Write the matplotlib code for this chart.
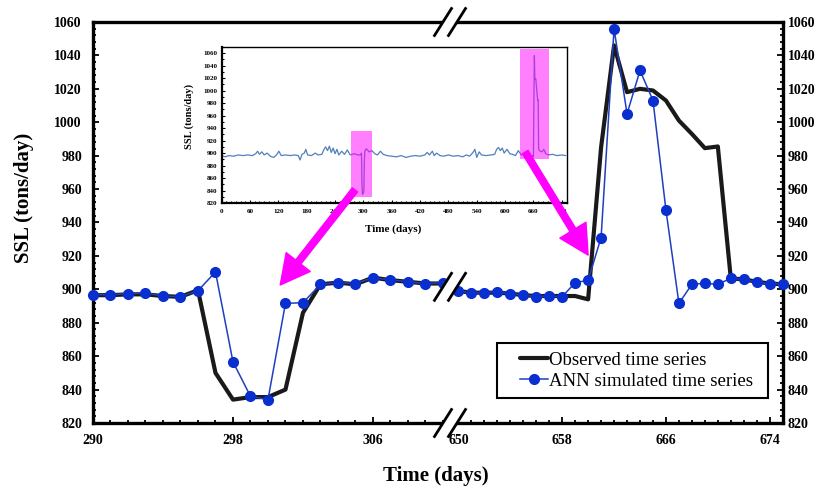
import matplotlib
matplotlib.use('Agg')
import matplotlib.pyplot as plt
from matplotlib.ticker import MultipleLocator
from matplotlib.patches import ConnectionPatch, Rectangle, Polygon
from matplotlib.lines import Line2D

plt.rcParams['font.family'] = ['Liberation Serif', 'DejaVu Serif']
plt.rcParams['font.weight'] = 'bold'

# ---- data ----
days_early = [290, 291, 292, 293, 294, 295, 296, 297, 298, 299, 300,
              301, 302, 303, 304, 305, 306, 307, 308, 309, 310]
obs_early = [896.5, 896.5, 897, 897, 896, 895.5, 899.5, 850, 834, 835.5, 835.5,
             840, 886, 903, 904, 903, 907, 905.5, 904.5, 903.5, 903.5]
sim_early = [896.8, 896.8, 897.4, 897.8, 896, 895.6, 899.2, 910.4, 856.6, 836, 834,
             891.6, 892, 903, 904, 903.4, 907, 905.6, 904.6, 903.4, 904]

days_late = [650, 651, 652, 653, 654, 655, 656, 657, 658, 659, 660, 661, 662,
             663, 664, 665, 666, 667, 668, 669, 670, 671, 672, 673, 674, 675]
obs_late = [899, 898, 898, 898, 897.5, 896.5, 896, 896, 896, 896, 894, 985, 1046,
            1018, 1020, 1019, 1013, 1001, 993, 984.5, 985.5, 906.5, 906, 904.5, 903.5, 903]
sim_late = [899, 898, 898, 898.4, 897.4, 896.6, 895.6, 896, 895.6, 904, 905.4, 931, 1056,
            1005, 1031, 1013, 947.4, 891.6, 903, 903.6, 903, 906.6, 906, 904.2, 903.4, 903.2]

ssl_ticks = [820, 840, 860, 880, 900, 920, 940, 960, 980, 1000, 1020, 1040, 1060]
xticks_early = [290, 298, 306]
xticks_late = [650, 658, 666, 674]

# whole record shown in the inset
inset_days = [0, 8, 15, 25, 35, 45, 55, 65, 72, 76, 80, 85, 90, 96, 103, 110, 116, 121,
              126, 135, 145, 155, 162, 166, 170, 175, 178, 182, 190, 198, 204, 212, 216,
              220, 224, 228, 232, 236, 240, 244, 248, 254, 260, 266, 272, 280, 288, 294,
              296, 297, 298, 300, 301, 302, 303, 306, 312, 318, 324, 330, 336, 342, 350,
              360, 370, 380, 390, 400, 410, 420, 430, 435, 440, 446, 450, 455, 462, 470,
              480, 490, 500, 510, 518, 525, 532, 536, 540, 545, 550, 560, 570, 578, 582,
              586, 590, 594, 598, 604, 610, 616, 622, 628, 634, 640, 646, 650, 655, 658,
              660, 661, 662, 663, 665, 667, 669, 670, 671, 674, 678, 682, 686, 692, 700,
              710, 720, 728]
inset_ssl = [896, 894, 896, 895, 897, 896, 897, 896, 899, 903, 898, 902, 897, 900, 895, 893,
             897, 903, 896, 897, 896, 897, 896, 889, 898, 900, 906, 897, 896, 900, 897, 898,
             905, 910, 904, 911, 901, 908, 899, 906, 897, 903, 898, 905, 897, 899, 897, 897,
             900, 850, 834, 836, 840, 886, 903, 907, 902, 904, 899, 897, 903, 898, 896,
             895, 894, 896, 893, 895, 896, 895, 897, 901, 897, 903, 896, 900, 896, 895,
             897, 895, 896, 894, 897, 895, 901, 906, 893, 902, 897, 896, 897, 898, 906,
             909, 904, 908, 900, 906, 899, 898, 896, 904, 897, 899, 897, 899, 896, 896,
             894, 985, 1056, 1018, 1019, 1001, 984, 985, 906, 903, 902, 906, 899, 897, 898,
             896, 897, 896]
# highlighted windows in the inset: (day from, day to, SSL from, SSL to)
zoom_windows = [(273, 319, 829, 935), (632, 693, 891, 1066)]

W, H = 818, 493


def fx(px):
    return px / W


def fy(py):
    return 1 - py / H


fig = plt.figure(figsize=(W / 100, H / 100), dpi=100)

left, split, right, top, bottom = 93, 451, 782.7, 22, 423
ax1 = fig.add_axes([fx(left), fy(bottom), fx(split) - fx(left), fy(top) - fy(bottom)])
ax2 = fig.add_axes([fx(split), fy(bottom), fx(right) - fx(split), fy(top) - fy(bottom)])

ax1.set_xlim(290, 310.46)
ax2.set_xlim(649.43, 675)
ax1.set_xticks(xticks_early, [str(t) for t in xticks_early])
ax2.set_xticks(xticks_late, [str(t) for t in xticks_late])
for ax in (ax1, ax2):
    ax.set_ylim(820, 1060)
    ax.set_yticks(ssl_ticks, [str(t) for t in ssl_ticks])
    ax.yaxis.set_minor_locator(MultipleLocator(4))
    ax.xaxis.set_minor_locator(MultipleLocator(1))
    ax.tick_params(which='both', direction='in', width=1.3, labelsize=10, top=False)
    ax.tick_params(which='major', length=4)
    ax.tick_params(which='minor', length=2.5)
    ax.tick_params(axis='x', pad=8)
    for s in ax.spines.values():
        s.set_linewidth(2.4)
ax1.spines['right'].set_visible(False)
ax2.spines['left'].set_visible(False)
ax1.tick_params(axis='y', which='both', left=True, right=False, pad=8)
ax2.tick_params(axis='y', which='both', left=False, right=True,
                labelleft=False, labelright=True, pad=3.5)

obs_kw = dict(color='#1a1a1a', lw=3, solid_joinstyle='round', solid_capstyle='round',
              clip_on=False, zorder=2)
sim_kw = dict(color='#1f3fbf', lw=1.1, clip_on=False, zorder=3)
mk_kw = dict(marker='o', ms=7, mfc='#0a2fd0', mec='#0a2fd0')

for ax, d, o, s in ((ax1, days_early, obs_early, sim_early),
                    (ax2, days_late, obs_late, sim_late)):
    ax.plot(d, o, label='Observed time series', **obs_kw)
    ax.plot(d, s, label='ANN simulated time series', **sim_kw, **mk_kw)

# carry both lines across the break (650 expressed in ax1 coordinates)
inv = ax1.transData.inverted()
for first, last, kw in ((obs_early, obs_late, obs_kw), (sim_early, sim_late, sim_kw)):
    x650, y650 = inv.transform(ax2.transData.transform((days_late[0], last[0])))
    ax1.plot([days_early[-1], x650], [first[-1], y650], **kw)

# break marks "//"
mid_y = ax1.transData.transform((0, (sim_early[-1] + sim_late[0]) / 2))[1]
mid_py = H - mid_y


def draw_break(xc, yc):
    dx, dy, gap = 8.5, 13.5, 7
    a = [(xc - gap - dx, yc + dy), (xc - gap + dx, yc - dy)]
    b = [(xc + gap - dx, yc + dy), (xc + gap + dx, yc - dy)]
    poly = [a[0], a[1], b[1], b[0]]
    fig.add_artist(Polygon([(fx(x), fy(y)) for x, y in poly], closed=True,
                           transform=fig.transFigure, fc='white', ec='none', zorder=3))
    for seg in (a, b):
        fig.add_artist(Line2D([fx(seg[0][0]), fx(seg[1][0])], [fy(seg[0][1]), fy(seg[1][1])],
                              transform=fig.transFigure, color='black', lw=2, zorder=4))


for yc in (top, bottom, mid_py):
    draw_break(split - 1, yc)

# legend: entries placed like the original, with its wider frame drawn separately
fig.add_artist(Rectangle((fx(497), fy(398)), fx(768) - fx(497), fy(343) - fy(398),
                         transform=fig.transFigure, fc='white', ec='black', lw=1.5, zorder=4))
leg = ax2.legend(loc='lower right', bbox_to_anchor=(0.936, 0.062),
                 prop={'weight': 'normal', 'size': 13.5}, frameon=False,
                 handlelength=1.5, handletextpad=0.05,
                 borderpad=0.45, labelspacing=0.2, borderaxespad=0)
leg.remove()
fig.add_artist(leg)
leg.set_zorder(5)

fig.text(fx(24), fy(198), 'SSL (tons/day)', rotation=90, ha='center', va='center',
         fontsize=15, fontweight='bold')
fig.text(fx(436), fy(476), 'Time (days)', ha='center', va='center',
         fontsize=15, fontweight='bold')

# ---- inset with the whole record ----
axin = fig.add_axes([fx(221.7), fy(203), fx(566.5) - fx(221.7), fy(47) - fy(203)], zorder=5)
axin.plot(inset_days, inset_ssl, color='#4f81bd', lw=0.9, zorder=2)
for d0, d1, s0, s1 in zoom_windows:
    axin.add_patch(Rectangle((d0, s0), d1 - d0, s1 - s0, fc='magenta', ec='none',
                             alpha=0.5, zorder=3))
axin.set_xlim(0, 730)
axin.set_ylim(820, 1070)
axin.set_xticks(list(range(0, 721, 60)))
axin.set_yticks(ssl_ticks)
axin.xaxis.set_minor_locator(MultipleLocator(10))
axin.yaxis.set_minor_locator(MultipleLocator(10))
axin.tick_params(which='both', direction='in', labelsize=5, width=0.8, top=False, right=False)
axin.tick_params(which='major', length=2.5)
axin.tick_params(which='minor', length=1.5)
axin.tick_params(axis='x', pad=4)
axin.tick_params(axis='y', pad=3)
for name, s in axin.spines.items():
    s.set_linewidth(1.6 if name in ('left', 'bottom') else 1.0)
fig.text(fx(189.5), fy(116), 'SSL (tons/day)', rotation=90, ha='center', va='center',
         fontsize=7.5, fontweight='bold')
fig.text(fx(393), fy(229), 'Time (days)', ha='center', va='center',
         fontsize=8, fontweight='bold')

# magenta arrows from the highlighted windows to the zoomed plot
arrow_kw = dict(arrowstyle='simple,head_length=2.1,head_width=2.2,tail_width=0.48',
                mutation_scale=10, color='magenta', shrinkA=0, shrinkB=0, zorder=6)
fig.add_artist(ConnectionPatch(xyA=(282, 841), coordsA=axin.transData,
                               xyB=(300.7, 902.6), coordsB=ax1.transData, **arrow_kw))
fig.add_artist(ConnectionPatch(xyA=(642.6, 901.6), coordsA=axin.transData,
                               xyB=(660.0, 920.5), coordsB=ax2.transData, **arrow_kw))

fig.savefig('out.png', dpi=100)
